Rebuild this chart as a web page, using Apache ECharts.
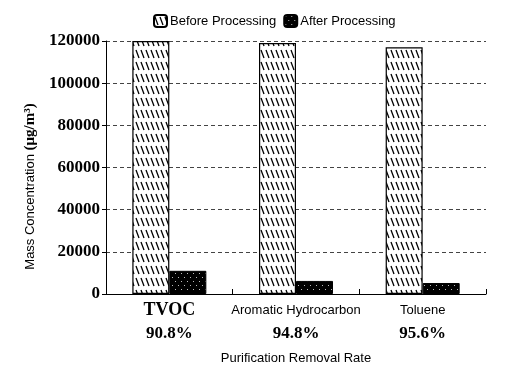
<!DOCTYPE html>
<html>
<head>
<meta charset="utf-8">
<script src="https://cdn.jsdelivr.net/npm/echarts@6/dist/echarts.min.js"></script>
<style>html,body{margin:0;padding:0;background:#fff;}#c{width:531px;height:384px;}</style>
</head>
<body>
<div id="c"></div>
<script>
const categories = ['TVOC', 'Aromatic Hydrocarbon', 'Toluene'];
const removalRates = ['90.8%', '94.8%', '95.6%'];
const beforeValues = [120000, 119000, 117000];
const afterValues = [11000, 6200, 5200];
const yTicks = [0, 20000, 40000, 60000, 80000, 100000, 120000];

function hatchPattern() {
  const c = document.createElement('canvas');
  c.width = 5; c.height = 12;
  const g = c.getContext('2d');
  g.fillStyle = '#fff'; g.fillRect(0, 0, 5, 12);
  g.strokeStyle = '#000'; g.lineWidth = 1.3;
  g.beginPath(); g.moveTo(1, 2); g.lineTo(4, 10); g.stroke();
  return c;
}
function dotPattern() {
  const c = document.createElement('canvas');
  c.width = 6; c.height = 8;
  const g = c.getContext('2d');
  g.fillStyle = '#000'; g.fillRect(0, 0, 6, 8);
  g.fillStyle = '#bbb';
  g.fillRect(1, 1, 1, 1);
  g.fillRect(4, 5, 1, 1);
  return c;
}

const chart = echarts.init(document.getElementById('c'));
chart.setOption({
  animation: false,
  backgroundColor: '#fff',
  legend: {
    top: 9, left: 148,
    itemWidth: 13, itemHeight: 12, itemGap: 7,
    textStyle: { fontFamily: 'Liberation Sans', fontSize: 13, color: '#000', padding: [0, 0, 0, -2] },
    data: ['Before Processing', 'After Processing']
  },
  grid: { left: 106, right: 45, top: 41, bottom: 90 },
  xAxis: {
    type: 'category',
    data: categories,
    name: 'Purification Removal Rate',
    nameLocation: 'middle',
    nameGap: 58,
    nameTextStyle: { fontFamily: 'Liberation Sans', fontSize: 13, color: '#000' },
    axisLine: { lineStyle: { color: '#000', width: 1 } },
    axisTick: { show: true, inside: true, length: 5, lineStyle: { color: '#000' } },
    axisLabel: {
      margin: 4,
      interval: 0,
      formatter: function (v, i) {
        return (i === 0 ? '{bn|' + v + '}' : '{sn|' + v + '}') + '\n{pc|' + removalRates[i] + '}';
      },
      rich: {
        bn: { fontFamily: 'Liberation Serif', fontWeight: 'bold', fontSize: 18, lineHeight: 24, color: '#000' },
        sn: { fontFamily: 'Liberation Sans', fontSize: 13, lineHeight: 24, color: '#000' },
        pc: { fontFamily: 'Liberation Serif', fontWeight: 'bold', fontSize: 17, lineHeight: 23, color: '#000' }
      }
    }
  },
  yAxis: {
    type: 'value',
    min: yTicks[0], max: yTicks[yTicks.length - 1], interval: 20000,
    name: '{a|Mass Concentration }{b|(μg/m³)}',
    nameLocation: 'middle',
    nameGap: 45,
    nameTextStyle: {
      padding: [0, 38, 0, 0],
      rich: {
        a: { fontFamily: 'Liberation Sans', fontSize: 13, color: '#000' },
        b: { fontFamily: 'Liberation Serif', fontWeight: 'bold', fontSize: 15, color: '#000' }
      }
    },
    axisLine: { show: true, lineStyle: { color: '#000', width: 1 } },
    axisTick: { show: true, length: 4, lineStyle: { color: '#000' } },
    axisLabel: { margin: 6, fontFamily: 'Liberation Serif', fontWeight: 'bold', fontSize: 17, color: '#000',
      formatter: function (v) { return String(v); } },
    splitLine: { show: true, lineStyle: { color: '#444', type: [4, 3], width: 1 } }
  },
  series: [
    {
      name: 'Before Processing', type: 'bar', data: beforeValues,
      barWidth: 37, barGap: '0%',
      itemStyle: { color: { image: hatchPattern(), repeat: 'repeat' }, borderColor: '#000', borderWidth: 1.2 }
    },
    {
      name: 'After Processing', type: 'bar', data: afterValues,
      barWidth: 37,
      itemStyle: { color: { image: dotPattern(), repeat: 'repeat' }, borderColor: '#000', borderWidth: 1 }
    }
  ]
});
</script>
</body>
</html>
